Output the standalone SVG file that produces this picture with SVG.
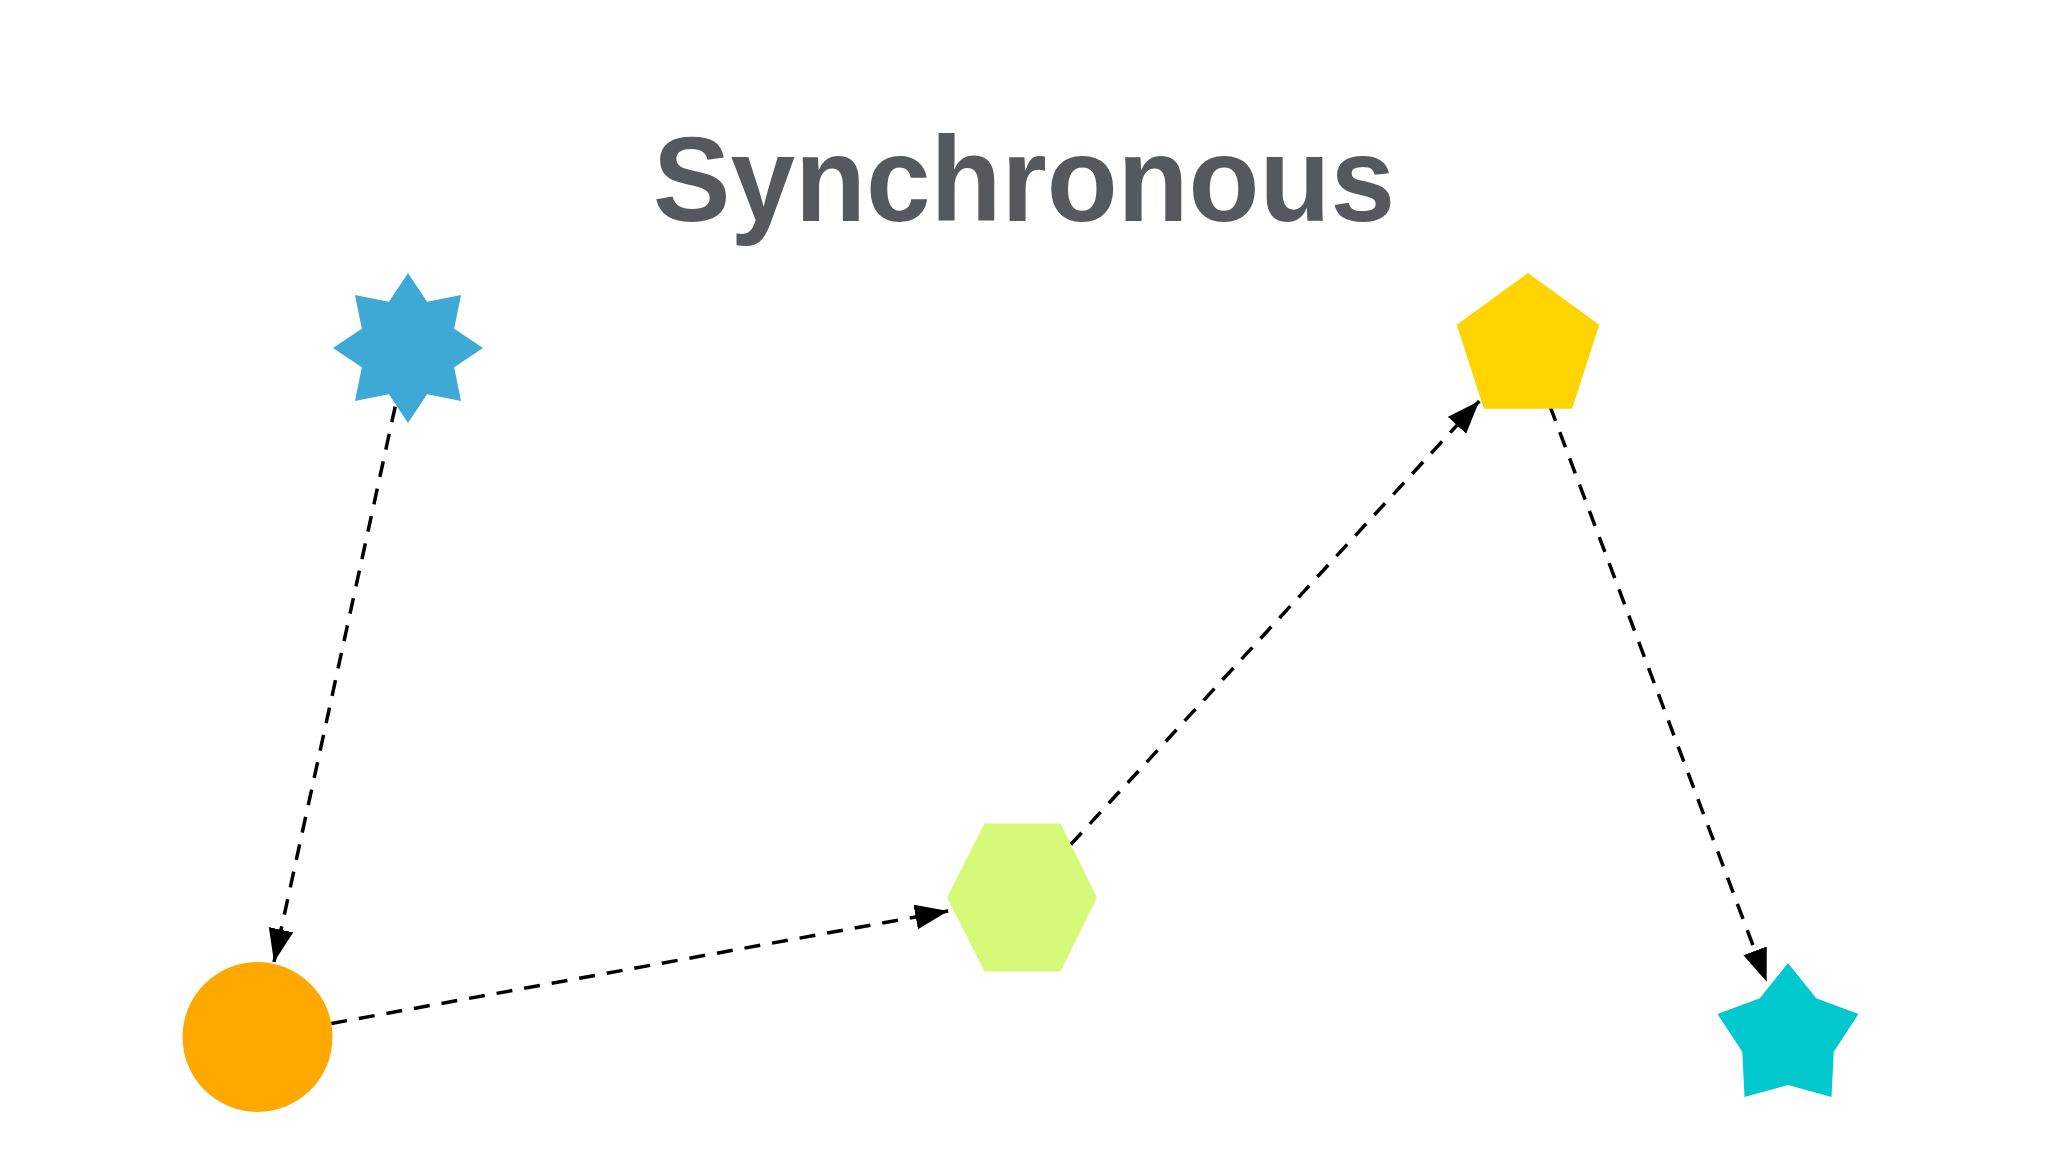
<svg xmlns="http://www.w3.org/2000/svg" width="2048" height="1152" viewBox="0 0 2048 1152">
  <defs>
    <marker id="arrow" markerUnits="userSpaceOnUse" markerWidth="34" markerHeight="26" refX="33" refY="12.5" orient="auto">
      <path d="M0,0 L33,12.5 L0,25 z" fill="#000"/>
    </marker>
    <style>
      .title { font-family: "Liberation Sans", Arial, sans-serif; font-weight: bold; font-size: 120px; fill: #55585c; }
      .conn { fill: none; stroke: #000; stroke-width: 3.5; stroke-dasharray: 16 12; marker-end: url(#arrow); }
    </style>
  </defs>
  <rect width="2048" height="1152" fill="#ffffff"/>
  <text class="title" x="1024" y="221" text-anchor="middle" textLength="742" lengthAdjust="spacingAndGlyphs">Synchronous</text>
  <g id="connectors">
    <line class="conn" x1="395.2" y1="406.6" x2="274" y2="962"/>
    <line class="conn" x1="331.3" y1="1023.5" x2="948.2" y2="911"/>
    <line class="conn" x1="1070.8" y1="844.5" x2="1479.3" y2="401"/>
    <line class="conn" x1="1549.9" y1="406" x2="1766.7" y2="981.7"/>
  </g>
  <g id="star8">
    <polygon fill="#3fa9d5" points="408,273 427.13,301.81 461.03,294.97 454.19,328.87 483,348 454.19,367.13 461.03,401.03 427.13,394.19 408,423 388.87,394.19 354.97,401.03 361.81,367.13 333,348 361.81,328.87 354.97,294.97 388.87,301.81"/>
  </g>
  <g id="circle">
    <circle cx="257.5" cy="1037" r="75" fill="#ffa800"/>
  </g>
  <g id="hexagon">
    <polygon fill="#d6fa78" points="947,897.5 984.5,823.5 1060.5,823.5 1097,897.5 1060.5,971.5 984.5,971.5"/>
  </g>
  <g id="pentagon">
    <polygon fill="#ffd400" points="1528,273 1599.3,324.8 1572.1,408.7 1483.9,408.7 1456.7,324.8"/>
  </g>
  <g id="star5">
    <polygon fill="#00c8cc" points="1788,963 1816.2,998.2 1858.4,1014.1 1833.7,1051.8 1831.5,1096.9 1788,1085 1744.5,1096.9 1742.3,1051.8 1717.6,1014.1 1759.8,998.2"/>
  </g>
</svg>
